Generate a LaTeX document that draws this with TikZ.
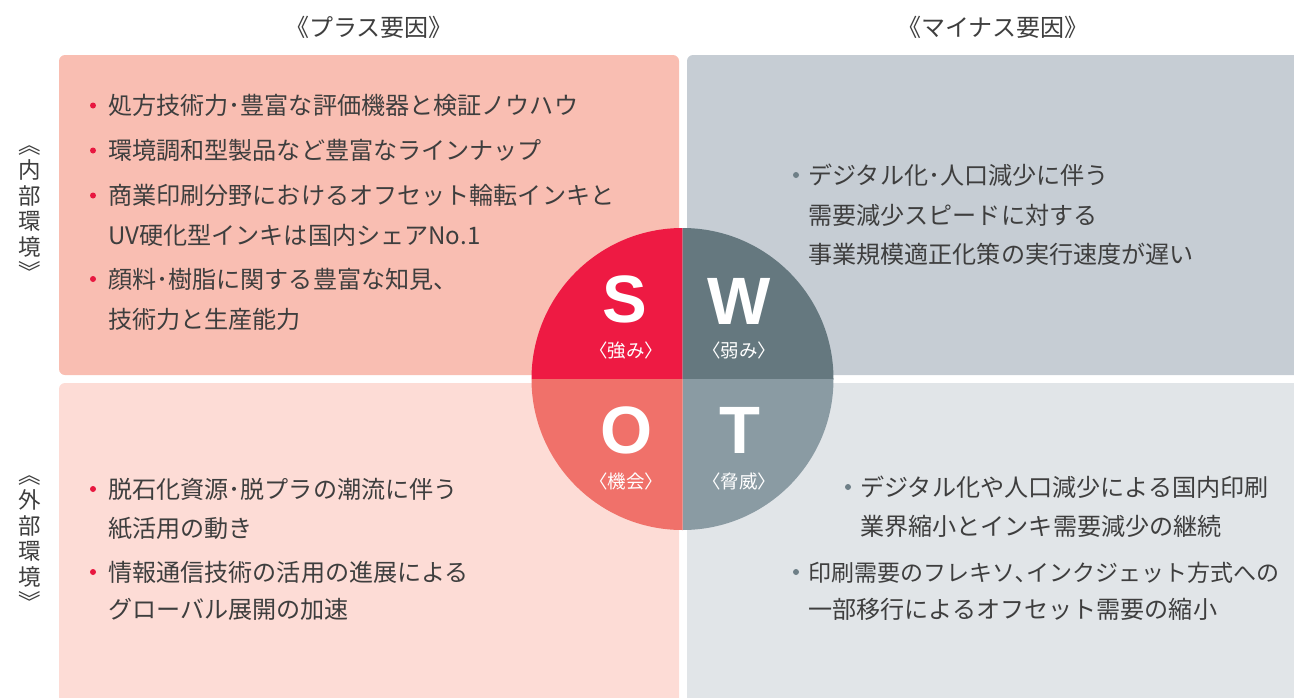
\documentclass[tikz,border=0pt]{standalone}
\usepackage{fontspec}
\setmainfont{Noto Sans CJK JP}
\newfontfamily\letterfont{Liberation Sans}
\definecolor{txt}{HTML}{3E3E3E}
\definecolor{cTL}{HTML}{F9BEB2}
\definecolor{cBL}{HTML}{FDDCD6}
\definecolor{cTR}{HTML}{C6CDD4}
\definecolor{cBR}{HTML}{E1E5E8}
\definecolor{qS}{HTML}{EE1A43}
\definecolor{qW}{HTML}{65787F}
\definecolor{qO}{HTML}{F0716A}
\definecolor{qT}{HTML}{8A9BA3}
\definecolor{bulR}{HTML}{E8173F}
\definecolor{bulG}{HTML}{6E7F87}
\begin{document}
\begin{tikzpicture}[x=1pt,y=-1pt,
  box/.style={rectangle, rounded corners=6pt, draw=none, inner sep=0pt},
  body/.style={anchor=base west, inner sep=0pt, text=txt, font=\fontsize{24.1}{28}\selectfont},
  bodyn/.style={anchor=base west, inner sep=0pt, text=txt, font=\fontsize{23}{28}\selectfont},
  head/.style={inner sep=0pt, text=txt, font=\fontsize{24}{28}\selectfont},
  vlab/.style={inner sep=0pt, text=txt, align=center, font=\fontsize{22.5}{25.5}\selectfont},
  bulr/.style={circle, inner sep=0pt, minimum size=6pt, fill=bulR},
  bulg/.style={circle, inner sep=0pt, minimum size=6pt, fill=bulG},
  letter/.style={inner sep=0pt, text=white, font=\letterfont\bfseries\fontsize{67}{70}\selectfont},
  sublab/.style={inner sep=0pt, text=white, font=\fontsize{18.5}{20}\selectfont}]
\useasboundingbox (0,0) rectangle (1294,697);
\clip (0,0) rectangle (1294,697);
% boxes
\node[box, fill=cTL, minimum width=620pt, minimum height=320pt] (tl) at (369,215) {};
\node[box, fill=cTR, minimum width=620pt, minimum height=320pt] (tr) at (997,215) {};
\node[box, fill=cBL, minimum width=620pt, minimum height=330pt] (bl) at (369,548) {};
\node[box, fill=cBR, minimum width=620pt, minimum height=330pt] (br) at (997,548) {};
% headers
\node[head] (hplus) at (369,27) {《プラス要因》};
\node[head] (hminus) at (993,27) {《マイナス要因》};
\node[vlab] (vin) at (30,213) {︽\\内\\部\\環\\境\\︾};
\node[vlab] (vout) at (30,543) {︽\\外\\部\\環\\境\\︾};
% top-left text
\node[bulr] (b1) at (93,105.5) {};
\node[body] (t1) at (108,114.5) {処方技術力･豊富な評価機器と検証ノウハウ};
\node[bulr] (b2) at (93,150.5) {};
\node[body] (t2) at (108,159.5) {環境調和型製品など豊富なラインナップ};
\node[bulr] (b3) at (93,195.5) {};
\node[body] (t3) at (108,204.5) {商業印刷分野におけるオフセット輪転インキと};
\node[body] (t3b) at (108,244) {UV硬化型インキは国内シェアNo.1};
\node[bulr] (b4) at (93,279) {};
\node[body] (t4) at (108,288) {顔料･樹脂に関する豊富な知見、};
\node[body] (t4b) at (108,328) {技術力と生産能力};
% top-right text
\node[bulg] (b5) at (796,175) {};
\node[body] (t5) at (808,184) {デジタル化･人口減少に伴う};
\node[body] (t5b) at (808,224) {需要減少スピードに対する};
\node[body] (t5c) at (808,263) {事業規模適正化策の実行速度が遅い};
% bottom-left text
\node[bulr] (b6) at (93,489) {};
\node[body] (t6) at (108,498) {脱石化資源･脱プラの潮流に伴う};
\node[body] (t6b) at (108,537) {紙活用の動き};
\node[bulr] (b7) at (93,572) {};
\node[body] (t7) at (108,581) {情報通信技術の活用の進展による};
\node[body] (t7b) at (108,618) {グローバル展開の加速};
% bottom-right text
\node[bulg] (b8) at (848,487) {};
\node[body] (t8) at (860,496) {デジタル化や人口減少による国内印刷};
\node[body] (t8b) at (860,535) {業界縮小とインキ需要減少の継続};
\node[bulg] (b9) at (796,572) {};
\node[bodyn] (t9) at (808,581) {印刷需要のフレキソ､インクジェット方式への};
\node[body] (t9b) at (808,618) {一部移行によるオフセット需要の縮小};
% circle
\coordinate (c) at (682.5,379);
\fill[qS] (c) -- ++(180:151) arc[start angle=180, end angle=270, radius=151] -- cycle;
\fill[qW] (c) -- ++(270:151) arc[start angle=270, end angle=360, radius=151] -- cycle;
\fill[qT] (c) -- ++(0:151) arc[start angle=0, end angle=90, radius=151] -- cycle;
\fill[qO] (c) -- ++(90:151) arc[start angle=90, end angle=180, radius=151] -- cycle;
\node[letter] (ls) at (625,299) {S};
\node[letter] (lw) at (739,301) {W};
\node[letter] (lo) at (627,430) {O};
\node[letter] (lt) at (739.5,430) {T};
\node[sublab] (ss) at (626,350) {〈強み〉};
\node[sublab] (sw) at (739,350) {〈弱み〉};
\node[sublab] (so) at (626,481) {〈機会〉};
\node[sublab] (st) at (739,481) {〈脅威〉};
\end{tikzpicture}
\end{document}
